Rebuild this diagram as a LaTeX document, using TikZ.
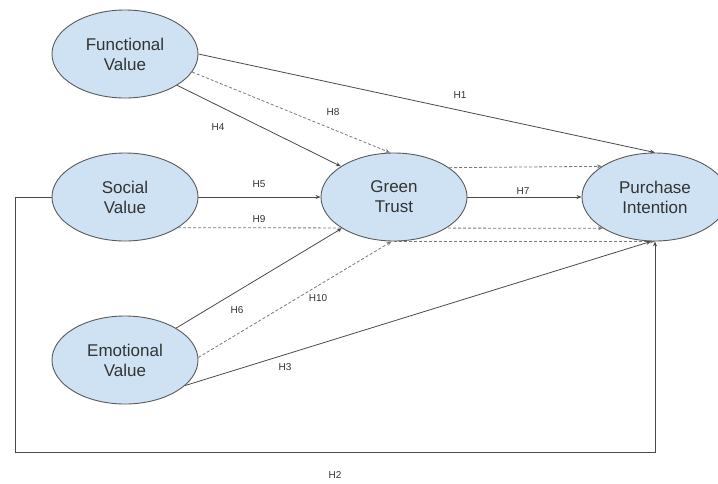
\documentclass[tikz,border=0pt]{standalone}
\usepackage{fontspec}
\setmainfont{Liberation Sans}
\usetikzlibrary{shapes.geometric,arrows.meta}
\pgfdeclarelayer{background}
\pgfsetlayers{background,main}
\definecolor{ellfill}{HTML}{CFE2F3}
\definecolor{ellline}{HTML}{5A5A5A}
\definecolor{solidline}{HTML}{4A4A4A}
\definecolor{dashline}{HTML}{7A7A7A}
\definecolor{txt}{HTML}{333333}
\begin{document}
\begin{tikzpicture}[x=1pt,y=-1pt,
  construct/.style={ellipse,draw=ellline,line width=0.9pt,fill=ellfill,
    minimum width=146pt,minimum height=88pt,inner sep=0pt,align=center,
    text=txt,font=\fontsize{17}{20}\selectfont},
  hlabel/.style={text=txt,font=\fontsize{10}{12}\selectfont,inner sep=0pt},
  direct/.style={draw=solidline,line width=0.8pt,-{Stealth[length=5pt,width=4pt]}},
  indirect/.style={draw=dashline,line width=0.8pt,dash pattern=on 3pt off 2pt,-{Stealth[length=5pt,width=4pt]}}
]
\useasboundingbox (0,0) rectangle (718,483);

% constructs
\node[construct] (fv) at (125,54)  {Functional\\Value};
\node[construct] (sv) at (125,197) {Social\\Value};
\node[construct] (ev) at (125,360) {Emotional\\Value};
\node[construct] (gt) at (394,197) {Green\\Trust};
\node[construct] (pi) at (655,197) {Purchase\\Intention};
\coordinate (h2corner) at (15,452);

% connectors, behind the ellipses
\begin{pgfonlayer}{background}
\fill[white] (0,0) rectangle (718,483);
\draw[direct] (fv.east) -- (pi.north);
\draw[indirect] (fv.-15) -- (gt.95);
\draw[direct] (fv.-31) -- (gt.150);
\draw[direct] (sv.east) -- (gt.west);
\draw[indirect] (sv.-30) -- (pi.211);
\draw[direct] (gt.east) -- (pi.west);
\draw[indirect] (gt.28) -- (pi.150);
\draw[indirect] (gt.south) -- (pi.south);
\draw[direct] (ev.32) -- (gt.211);
\draw[indirect] (ev.2) -- (gt.-93);
\draw[direct] (ev.-23) -- (pi.-95);
\draw[direct] (sv.west) -| (h2corner) -| (pi.south);
\end{pgfonlayer}

% labels
\node[hlabel] (l1) at (460,95) {H1};
\node[hlabel] (l8) at (333,112) {H8};
\node[hlabel] (l4) at (218,127) {H4};
\node[hlabel] (l5) at (259,184) {H5};
\node[hlabel] (l9) at (259,219) {H9};
\node[hlabel] (l7) at (523,191) {H7};
\node[hlabel] (l6) at (237,310) {H6};
\node[hlabel] (l10) at (318,298) {H10};
\node[hlabel] (l3) at (285,367) {H3};
\node[hlabel] (l2) at (335,475) {H2};
\end{tikzpicture}
\end{document}
